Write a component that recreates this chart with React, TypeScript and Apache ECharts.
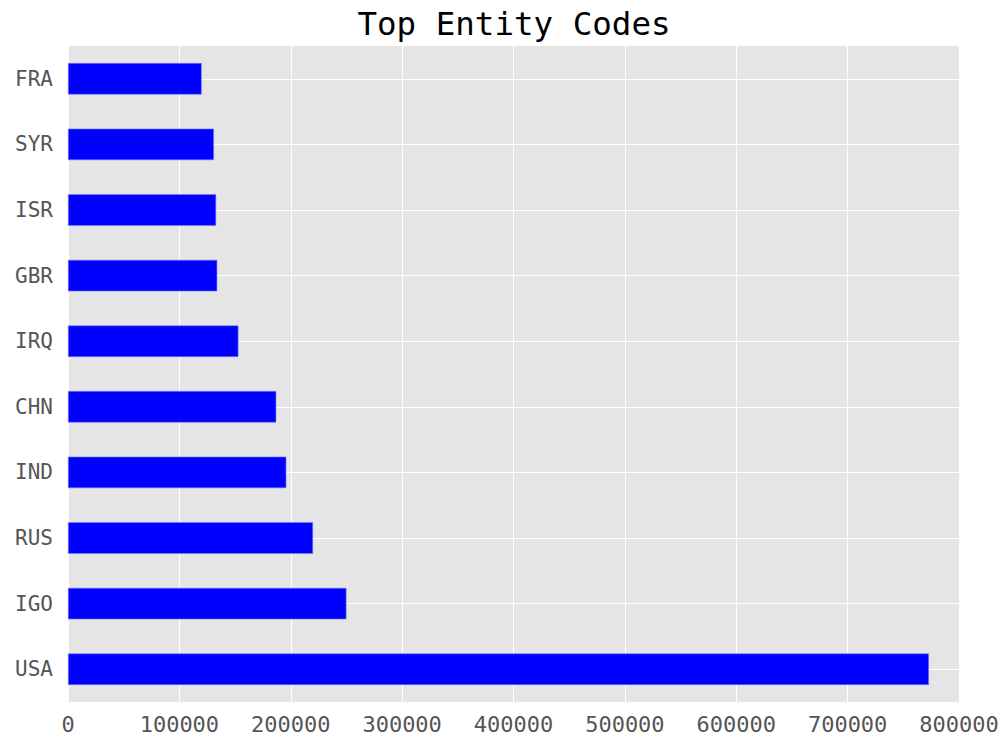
import React, { useEffect, useRef } from "react";
import * as echarts from "echarts";

const categories = ["USA", "IGO", "RUS", "IND", "CHN", "IRQ", "GBR", "ISR", "SYR", "FRA"];
const counts = [773000, 250000, 220000, 196000, 187000, 153000, 134000, 133000, 131000, 120000];
const xTicks = { min: 0, max: 800000, interval: 100000 };
const titleText = "Top Entity Codes";

const FONT = "'DejaVu Sans Mono', monospace";

export default function App() {
  const ref = useRef<HTMLDivElement>(null);
  useEffect(() => {
    if (!ref.current) return;
    const chart = echarts.init(ref.current, null, { renderer: "svg" });
    chart.setOption({
      animation: false,
      title: {
        text: titleText,
        left: 509,
        textAlign: "center",
        top: 2,
        textStyle: { fontFamily: FONT, fontSize: 32.5, fontWeight: "normal", color: "#000" },
      },
      grid: {
        left: 68,
        right: 48,
        top: 46,
        bottom: 36,
        show: true,
        backgroundColor: "#E5E5E5",
        borderWidth: 0,
        containLabel: false,
      },
      xAxis: {
        type: "value",
        min: xTicks.min,
        max: xTicks.max,
        interval: xTicks.interval,
        axisLine: { show: false },
        axisTick: { show: false },
        axisLabel: {
          fontFamily: FONT,
          fontSize: 22,
          color: "#555",
          margin: 11,
          hideOverlap: false,
          formatter: (v: number) => String(v),
        },
        splitLine: { show: true, lineStyle: { color: "#FFFFFF", width: 1 } },
      },
      yAxis: {
        type: "category",
        data: categories,
        axisLine: { show: false },
        axisTick: { show: false },
        axisLabel: { fontFamily: FONT, fontSize: 21, color: "#555", margin: 15 },
        splitLine: { show: false },
      },
      series: [
        {
          type: "line",
          data: [],
          z: 1,
          silent: true,
          markLine: {
            z: 1,
            silent: true,
            symbol: ["none", "none"],
            label: { show: false },
            lineStyle: { color: "#FFFFFF", width: 1, type: "solid" },
            data: categories.map((c) => ({ yAxis: c })),
          },
        },
        {
          type: "bar",
          data: counts,
          z: 3,
          barWidth: "48%",
          itemStyle: { color: "#0000FF", borderColor: "#7777FF", borderWidth: 0.6 },
        },
      ],
    });
    return () => chart.dispose();
  }, []);
  return (
    <div
      ref={ref}
      style={{ position: "fixed", left: 0, top: 0, width: 1007, height: 738, background: "#fff" }}
    />
  );
}
